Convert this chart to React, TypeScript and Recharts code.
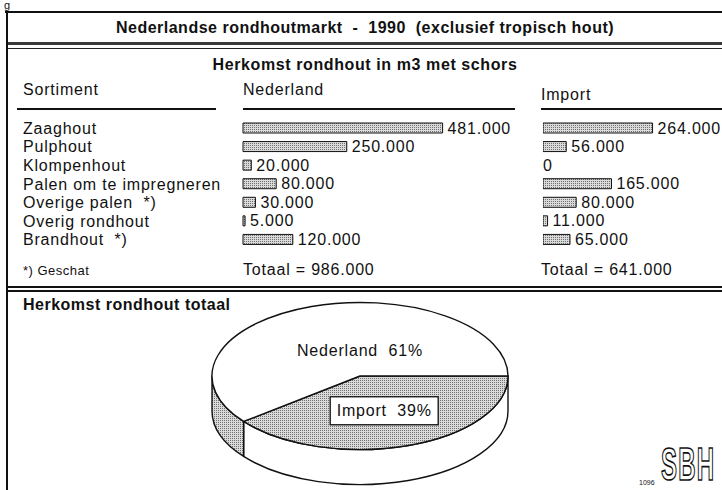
import React from 'react';
import { BarChart, Bar, XAxis, YAxis, PieChart, Pie, Tooltip, LabelList, Rectangle } from 'recharts';

// ---------- data ----------
const categories = [
  'Zaaghout',
  'Pulphout',
  'Klompenhout',
  'Palen om te impregneren',
  'Overige palen  *)',
  'Overig rondhout',
  'Brandhout  *)',
];
const nederlandValues = [481000, 250000, 20000, 80000, 30000, 5000, 120000];
const importValues = [264000, 56000, 0, 165000, 80000, 11000, 65000];
const columnHeaders = ['Sortiment', 'Nederland', 'Import'];
const pieNames = ['Import', 'Nederland'];

// ---------- styling ----------
const FONT = "'Liberation Sans', Arial, Helvetica, sans-serif";
const INK = '#111';
const PIE_RY_RATIO = 0.497;
const PIE_DEPTH = 35;
const pieStyles: Record<string, { top: string; side: string }> = {
  Import: { top: 'url(#dotsPie)', side: '#ffffff' },
  Nederland: { top: '#ffffff', side: 'url(#dotsPie)' },
};

const fmt = (v: number) => (v === 0 ? '0' : String(v).replace(/\B(?=(\d{3})+(?!\d))/g, '.'));

const txt = (extra: React.CSSProperties = {}): React.CSSProperties => ({
  position: 'absolute',
  fontFamily: FONT,
  fontSize: 16,
  letterSpacing: '0.8px',
  color: INK,
  lineHeight: '16px',
  whiteSpace: 'pre',
  ...extra,
});

const line = (left: number, top: number, width: number, height: number, bg = INK): React.CSSProperties => ({
  position: 'absolute',
  left,
  top,
  width,
  height,
  background: bg,
});

const RowTick = (props: any) => {
  const { y, payload } = props;
  return (
    <text
      x={23}
      y={y}
      dominantBaseline="central"
      fontFamily={FONT}
      fontSize={16}
      fill={INK}
      style={{ letterSpacing: '0.8px', whiteSpace: 'pre' }}
      xmlSpace="preserve"
    >
      {payload.value}
    </text>
  );
};

const ValueLabel = (props: any) => {
  const { x, y, width, height, value } = props;
  const v = Number(value);
  const gap = v === 0 ? -1 : 5;
  return (
    <text
      x={Number(x) + Number(width) + gap}
      y={Number(y) + Number(height) / 2}
      dominantBaseline="central"
      fontFamily={FONT}
      fontSize={16}
      fill={INK}
      style={{ letterSpacing: '0.8px' }}
    >
      {fmt(v)}
    </text>
  );
};

const BarShape = (props: any) => {
  const val = Array.isArray(props.value) ? props.value[1] - props.value[0] : props.value;
  if (!val) return <g />;
  return <Rectangle {...props} />;
};

const Dots = ({ id }: { id: string }) => (
  <defs>
    <pattern id={id} width="2" height="2" patternUnits="userSpaceOnUse">
      <rect width="2" height="2" fill="#dadada" />
      <rect width="1" height="1" fill="#707070" />
    </pattern>
  </defs>
);

const PieShape = (props: any) => {
  const { cx, cy, outerRadius, startAngle, endAngle } = props;
  const name = props.name ?? props.payload?.name;
  const st = pieStyles[name] || { top: '#fff', side: '#fff' };
  const rx = outerRadius;
  const ry = outerRadius * PIE_RY_RATIO;
  const p = (a: number, dy = 0) => {
    const r = (a * Math.PI) / 180;
    return `${cx + rx * Math.cos(r)},${cy - ry * Math.sin(r) + dy}`;
  };
  const large = Math.abs(endAngle - startAngle) > 180 ? 1 : 0;
  const sweep = endAngle < startAngle ? 1 : 0;
  const top = `M${cx},${cy} L${p(startAngle)} A${rx},${ry} 0 ${large} ${sweep} ${p(endAngle)} Z`;
  const lo = Math.max(Math.min(startAngle, endAngle), -180);
  const hi = Math.min(Math.max(startAngle, endAngle), 0);
  let side: string | null = null;
  if (hi > lo) {
    side =
      `M${p(hi)} A${rx},${ry} 0 0 1 ${p(lo)} L${p(lo, PIE_DEPTH)} ` +
      `A${rx},${ry} 0 0 0 ${p(hi, PIE_DEPTH)} Z`;
  }
  return (
    <g>
      {side && <path d={side} fill={st.side} stroke={INK} strokeWidth={1.4} strokeLinejoin="round" />}
      <path d={top} fill={st.top} stroke={INK} strokeWidth={1.4} strokeLinejoin="round" />
    </g>
  );
};

const PieLabel = (props: any) => {
  const { cx, cy, midAngle, outerRadius, percent, name } = props;
  const rx = outerRadius;
  const ry = outerRadius * PIE_RY_RATIO;
  const label = `${name}  ${Math.round(percent * 100)}%`;
  if (name === 'Nederland') {
    return (
      <text
        x={cx}
        y={cy - ry * 0.34}
        textAnchor="middle"
        dominantBaseline="central"
        fontFamily={FONT}
        fontSize={16}
        fill={INK}
        style={{ letterSpacing: '0.8px', whiteSpace: 'pre' }}
        xmlSpace="preserve"
      >
        {label}
      </text>
    );
  }
  const r = (midAngle * Math.PI) / 180;
  const x = cx + rx * 0.5 * Math.cos(r);
  const y = cy - ry * 0.5 * Math.sin(r);
  return (
    <g>
      <rect x={x - 54} y={y - 14} width={108} height={28} fill="#fff" stroke={INK} strokeWidth={1.3} />
      <text
        x={x}
        y={y}
        textAnchor="middle"
        dominantBaseline="central"
        fontFamily={FONT}
        fontSize={16}
        fill={INK}
        style={{ letterSpacing: '0.8px', whiteSpace: 'pre' }}
        xmlSpace="preserve"
      >
        {label}
      </text>
    </g>
  );
};

export default function App() {
  const rows = categories.map((name, i) => ({ name, nl: nederlandValues[i], imp: importValues[i] }));
  const totalNl = nederlandValues.reduce((a, b) => a + b, 0);
  const totalImp = importValues.reduce((a, b) => a + b, 0);
  const pieData = pieNames.map((name) => ({ name, value: name === 'Import' ? totalImp : totalNl }));

  return (
    <div
      style={{
        position: 'absolute',
        left: 0,
        top: 0,
        width: 722,
        height: 490,
        overflow: 'hidden',
        background: '#fff',
        fontFamily: FONT,
      }}
    >
      {/* stray glyph from preceding page */}
      <div style={txt({ left: 4, top: 0, fontSize: 11, lineHeight: '11px', letterSpacing: '0px' })}>g</div>

      {/* frame */}
      <div style={line(5, 11, 717, 2)} />
      <div style={line(6, 11, 2, 479)} />
      <div style={line(8, 42, 714, 3, '#3a3a3a')} />
      <div style={line(8, 48, 714, 1, '#222')} />
      <div style={line(8, 286, 714, 2)} />
      <div style={line(8, 290, 714, 1.5)} />

      {/* titles */}
      <div style={txt({ left: 8, width: 714, top: 20, textAlign: 'center', fontWeight: 'bold', letterSpacing: '0.5px' })}>
        Nederlandse rondhoutmarkt  -  1990  (exclusief tropisch hout)
      </div>
      <div style={txt({ left: 8, width: 714, top: 57, textAlign: 'center', fontWeight: 'bold', letterSpacing: '0.6px' })}>
        Herkomst rondhout in m3 met schors
      </div>

      {/* column headers */}
      <div style={txt({ left: 23, top: 82 })}>{columnHeaders[0]}</div>
      <div style={txt({ left: 243, top: 82 })}>{columnHeaders[1]}</div>
      <div style={txt({ left: 541, top: 87 })}>{columnHeaders[2]}</div>
      <div style={line(17, 108, 199, 2)} />
      <div style={line(243, 108, 272, 2)} />
      <div style={line(541, 108, 181, 2)} />

      {/* Nederland bars + row labels */}
      <div style={{ position: 'absolute', left: 0, top: 119 }}>
        <BarChart width={532} height={130} layout="vertical" data={rows} margin={{ top: 0, right: 40, bottom: 0, left: 0 }}>
          <Dots id="dotsNl" />
          <XAxis type="number" domain={[0, 600000]} hide />
          <YAxis
            type="category"
            dataKey="name"
            width={243}
            tick={<RowTick />}
            axisLine={false}
            tickLine={false}
            interval={0}
          />
          <Bar
            dataKey="nl"
            barSize={10}
            fill="url(#dotsNl)"
            stroke={INK}
            strokeWidth={1}
            minPointSize={1}
            shape={BarShape}
            isAnimationActive={false}
          >
            <LabelList dataKey="nl" content={<ValueLabel />} />
          </Bar>
        </BarChart>
      </div>

      {/* Import bars */}
      <div style={{ position: 'absolute', left: 543, top: 119 }}>
        <BarChart width={249} height={130} layout="vertical" data={rows} margin={{ top: 0, right: 0, bottom: 0, left: 0 }}>
          <Dots id="dotsImp" />
          <XAxis type="number" domain={[0, 600000]} hide />
          <YAxis type="category" dataKey="name" hide />
          <Bar
            dataKey="imp"
            barSize={10}
            fill="url(#dotsImp)"
            stroke={INK}
            strokeWidth={1}
            minPointSize={1}
            shape={BarShape}
            isAnimationActive={false}
          >
            <LabelList dataKey="imp" content={<ValueLabel />} />
          </Bar>
        </BarChart>
      </div>

      {/* footers */}
      <div style={txt({ left: 23, top: 263, fontSize: 13, letterSpacing: '0.5px' })}>*) Geschat</div>
      <div style={txt({ left: 243, top: 262 })}>{`Totaal = ${fmt(totalNl)}`}</div>
      <div style={txt({ left: 541, top: 262 })}>{`Totaal = ${fmt(totalImp)}`}</div>

      {/* pie panel */}
      <div style={txt({ left: 23, top: 297, fontWeight: 'bold', letterSpacing: '0.5px' })}>Herkomst rondhout totaal</div>
      <div style={{ position: 'absolute', left: 0, top: 290 }}>
        <PieChart width={722} height={200} margin={{ top: 0, right: 0, bottom: 0, left: 0 }}>
          <Dots id="dotsPie" />
          <Pie
            data={pieData}
            dataKey="value"
            nameKey="name"
            cx={360}
            cy={86}
            outerRadius={148}
            startAngle={0}
            endAngle={-360}
            stroke={INK}
            activeShape={PieShape}
            inactiveShape={PieShape}
            shape={PieShape}
            label={PieLabel}
            labelLine={false}
            isAnimationActive={false}
          />
          <Tooltip defaultIndex={0} content={() => null} cursor={false} isAnimationActive={false} />
        </PieChart>
      </div>

      {/* SBH logo */}
      <div style={txt({ left: 639, top: 479, fontSize: 7, letterSpacing: '0px', lineHeight: '7px' })}>1096</div>
      <div
        style={txt({
          left: 661,
          top: 441,
          fontSize: 40,
          lineHeight: '40px',
          fontWeight: 'bold',
          letterSpacing: '2px',
          color: '#fff',
          WebkitTextStroke: `1.5px ${INK}`,
          transform: 'scale(0.6, 1.15)',
          transformOrigin: '0 0',
        } as React.CSSProperties)}
      >
        SBH
      </div>
    </div>
  );
}
